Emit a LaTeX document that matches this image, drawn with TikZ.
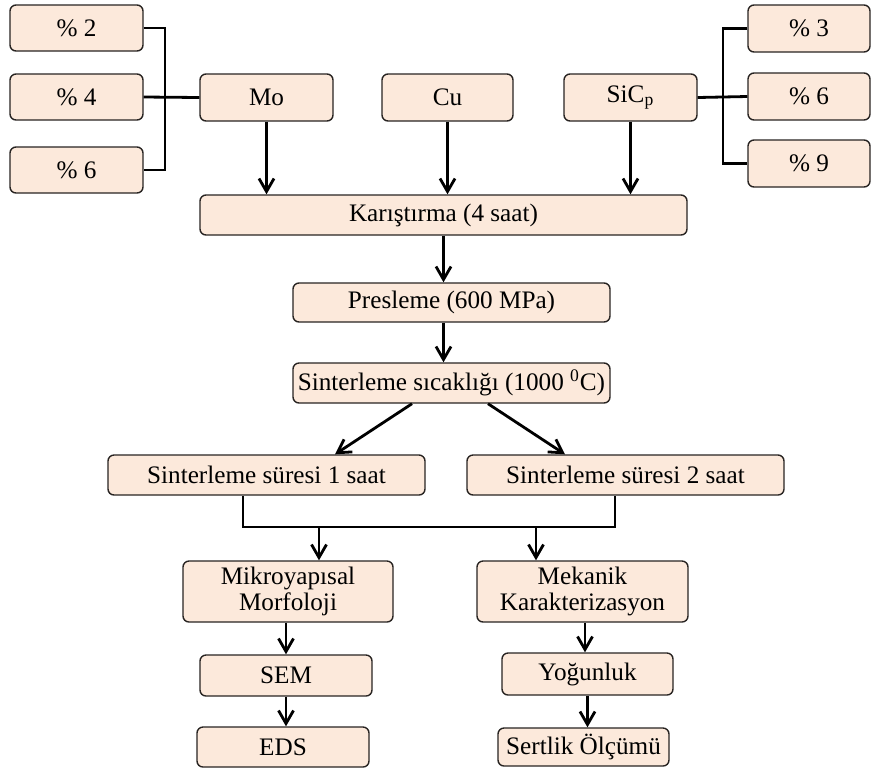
\documentclass[tikz,border=0pt]{standalone}
\usepackage{fontspec}
\setmainfont{Liberation Serif}
\usetikzlibrary{arrows.meta,calc}
\definecolor{boxfill}{RGB}{252,233,219}
\definecolor{boxline}{RGB}{40,36,34}
\tikzset{
  bx/.style 2 args={draw=boxline, fill=boxfill, line width=0.7pt, rounded corners=3pt,
    inner sep=0pt, align=center, minimum width=#1*0.5pt, minimum height=#2*0.5pt,
    font=\fontsize{12.6}{12.6}\selectfont},
  conn/.style={line width=1.4pt, black},
  arr/.style={conn, -{Straight Barb[length=6.5pt,width=7.5pt]}}
}
\begin{document}
\begin{tikzpicture}[x=0.5pt,y=-0.5pt]
\useasboundingbox (0,0) rectangle (872,767);
% left percentages
\node[bx={133}{46}] (p2) at (76.5,28) {\% 2};
\node[bx={133}{46}] (p4) at (76.5,97) {\% 4};
\node[bx={133}{46}] (p6L) at (76.5,170) {\% 6};
% materials
\node[bx={133}{47}] (Mo) at (266.5,97.5) {Mo};
\node[bx={131}{47}] (Cu) at (447.5,97.5) {Cu};
\node[bx={133}{47}] (SiC) at (630.5,97.5) {SiC\textsubscript{p}};
% right percentages
\node[bx={122}{47}] (p3) at (809,28.5) {\% 3};
\node[bx={122}{47}] (p6R) at (809,96.5) {\% 6};
\node[bx={122}{47}] (p9) at (809,163.5) {\% 9};
% process
\node[bx={487}{40}] (Kar) at (443.5,215) {Karıştırma (4 saat)};
\node[bx={317}{39}] (Pres) at (451.5,302.5) {Presleme (600 MPa)};
\node[bx={317}{40}] (Sic) at (451.5,383) {Sinterleme sıcaklığı (1000 \textsuperscript{0}C)};
\node[bx={317}{40}] (S1) at (266.5,475) {Sinterleme süresi 1 saat};
\node[bx={317}{40}] (S2) at (625.5,475) {Sinterleme süresi 2 saat};
\node[bx={210}{61}] (Mik) at (288,591.5) {Mikroyapısal\\Morfoloji};
\node[bx={211}{61}] (Mek) at (582.5,591.5) {Mekanik\\Karakterizasyon};
\node[bx={172}{41}] (SEM) at (286,675.5) {SEM};
\node[bx={172}{40}] (EDS) at (283,747) {EDS};
\node[bx={171}{42}] (Yog) at (587.5,674) {Yoğunluk};
\node[bx={171}{38}] (Sert) at (583.5,747) {Sertlik Ölçümü};
% brackets
\coordinate (bl) at (165,97);
\coordinate (br) at (723,97);
\draw[conn] (p2.east) -| (bl) |- (p6L.east);
\draw[conn] (p4.east) -- (Mo.west);
\draw[conn] (p3.west) -| (br) |- (p9.west);
\draw[conn] (SiC.east) -- (p6R.west);
% arrows into mixing
\draw[arr] (Mo.south) -- (Mo.south |- Kar.north);
\draw[arr] (Cu.south) -- (Cu.south |- Kar.north);
\draw[arr] (SiC.south) -- (SiC.south |- Kar.north);
\draw[arr] (Kar.south) -- (Kar.south |- Pres.north);
\draw[arr] (Kar.south |- Pres.south) -- (Kar.south |- Sic.north);
\draw[arr] ([xshift=-19.75pt]Sic.south) -- ([xshift=34.25pt]S1.north);
\draw[arr] ([xshift=18.25pt]Sic.south) -- ([xshift=-30.25pt]S2.north);
% join
\coordinate (j1) at (243,527);
\coordinate (j2) at (615,527);
\coordinate (a1) at (319,527);
\coordinate (a2) at (536,527);
\draw[conn] (S1.south -| j1) -- (j1) -- (j2) -- (S2.south -| j2);
\draw[arr] (a1) -- (a1 |- Mik.north);
\draw[arr] (a2) -- (a2 |- Mek.north);
% bottom chains
\draw[arr] (Mik.south -| SEM.north) -- (SEM.north);
\draw[arr] (SEM.south) -- (SEM.south |- EDS.north);
\draw[arr] ([xshift=1.25pt]Mek.south) -- ([xshift=1.25pt]Mek.south |- Yog.north);
\draw[arr] (Yog.south) -- (Yog.south |- Sert.north);
\end{tikzpicture}
\end{document}
